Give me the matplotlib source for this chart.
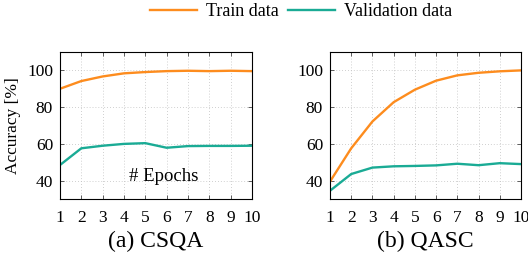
import matplotlib.pyplot as plt
from matplotlib.lines import Line2D

plt.rcParams['font.family'] = ['Liberation Serif', 'DejaVu Serif']

epochs = list(range(1, 11))

csqa_train = [90.0, 94.2, 96.7, 98.4, 99.1, 99.6, 99.8, 99.6, 99.8, 99.6]
csqa_val = [48.5, 57.6, 59.0, 60.0, 60.4, 57.9, 58.8, 58.9, 58.9, 59.0]

qasc_train = [39.5, 57.6, 72.2, 82.7, 89.5, 94.4, 97.3, 98.7, 99.5, 100.0]
qasc_val = [34.5, 43.6, 47.1, 47.8, 48.0, 48.3, 49.2, 48.4, 49.5, 49.0]

captions = ['(a) CSQA', '(b) QASC']
series_names = ['Train data', 'Validation data']

ORANGE = '#fd8c1e'
TEAL = '#1aab95'

fig = plt.figure(figsize=(5.28, 2.54), dpi=100)
ax1 = fig.add_axes([0.1136, 0.2165, 0.3636, 0.5787])
ax2 = fig.add_axes([0.625, 0.2165, 0.3617, 0.5787])

panels = [(ax1, csqa_train, csqa_val), (ax2, qasc_train, qasc_val)]

for i, (ax, train, val) in enumerate(panels):
    ax.plot(epochs, train, color=ORANGE, lw=1.7, solid_joinstyle='round')
    ax.plot(epochs, val, color=TEAL, lw=1.7, solid_joinstyle='round')
    ax.set_xlim(1, 10)
    ax.set_ylim(30, 110)
    ax.set_xticks(epochs)
    ax.set_yticks([40, 60, 80, 100])
    ax.grid(True, color='#c0c0c0', ls=(0, (1, 2.5)), lw=0.6)
    ax.tick_params(direction='in', top=True, right=True, length=3,
                   width=0.6, labelsize=12.5, pad=5, color='#444444')
    ax.tick_params(axis='x', pad=8)
    for s in ax.spines.values():
        s.set_linewidth(0.8)
    ax.text(0.5, -0.29, captions[i], transform=ax.transAxes,
            ha='center', va='center', fontsize=17)

ax1.set_ylabel('Accuracy [%]', fontsize=12.5, labelpad=4)
ax1.text(5.85, 42, '# Epochs', ha='center', va='center', fontsize=13.5)

handles = [Line2D([], [], color=ORANGE, lw=1.7),
           Line2D([], [], color=TEAL, lw=1.7)]
fig.legend(handles, series_names, loc='center', ncol=2,
           bbox_to_anchor=(0.57, 0.955), frameon=False, fontsize=13,
           handlelength=2.6, handletextpad=0.5, columnspacing=0.5,
           borderpad=0.1)

fig.savefig('out.png', dpi=100)
